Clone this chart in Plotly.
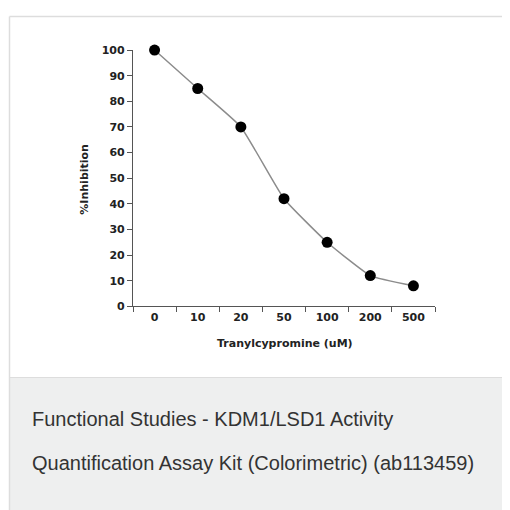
import plotly.graph_objects as go

categories = ["0", "10", "20", "50", "100", "200", "500"]
inhibition = [100, 85, 70, 42, 25, 12, 8]
y_ticks = [0, 10, 20, 30, 40, 50, 60, 70, 80, 90, 100]

W = H = 510
OFF = 8  # page body margin offset
def px(x):
    return (x - OFF) / W
def py(y):
    return 1 - (y - OFF) / H

fig = go.Figure()
fig.add_trace(go.Scatter(
    x=categories, y=inhibition, mode="lines+markers",
    line=dict(color="#8c8c8c", width=1.5, shape="spline", smoothing=0.4),
    marker=dict(color="#000000", size=11),
    cliponaxis=False,
    hoverinfo="skip", showlegend=False,
))

tick_font = dict(family="DejaVu Sans", size=11, color="#222222", weight="bold")

fig.update_layout(
    width=W, height=H,
    margin=dict(l=0, r=0, t=0, b=0),
    paper_bgcolor="white", plot_bgcolor="white",
    xaxis=dict(
        domain=[px(133), px(435)], type="category", range=[-0.5, 6.5],
        showline=True, linecolor="#555555", linewidth=1.2,
        ticks="outside", tickson="boundaries", ticklen=5, tickcolor="#555555",
        tickfont=tick_font, showgrid=False, zeroline=False, fixedrange=True,
    ),
    yaxis=dict(
        domain=[py(308), py(45)], range=[0, 100],
        tickvals=y_ticks,
        showline=True, linecolor="#555555", linewidth=1.2,
        ticks="outside", ticklen=5, tickcolor="#555555",
        tickfont=tick_font, showgrid=False, zeroline=False, fixedrange=True,
    ),
    shapes=[
        dict(type="rect", xref="paper", yref="paper", x0=px(10), x1=1.05, y0=-0.05, y1=py(381),
             fillcolor="#eeefef", line=dict(width=0), layer="below"),
        dict(type="line", xref="paper", yref="paper", x0=px(10), x1=1.05, y0=py(381), y1=py(381),
             line=dict(color="#dddddd", width=1)),
        dict(type="line", xref="paper", yref="paper", x0=px(9.5), x1=1.05, y0=py(10.5), y1=py(10.5),
             line=dict(color="#dddddd", width=1.5)),
        dict(type="line", xref="paper", yref="paper", x0=px(9.5), x1=px(9.5), y0=-0.05, y1=py(10.5),
             line=dict(color="#dddddd", width=1.5)),
    ],
    annotations=[
        dict(text="%Inhibition", xref="paper", yref="paper", x=px(85), y=py(178),
             textangle=-90, showarrow=False, xanchor="center", yanchor="middle",
             font=tick_font),
        dict(text="Tranylcypromine (uM)", xref="paper", yref="paper", x=px(285), y=py(346),
             showarrow=False, xanchor="center", yanchor="middle", font=tick_font),
        dict(text="Functional Studies - KDM1/LSD1 Activity", xref="paper", yref="paper",
             x=px(30), y=py(424), showarrow=False, xanchor="left", yanchor="middle",
             font=dict(family="Liberation Sans, Arial", size=20, color="#333333")),
        dict(text="Quantification Assay Kit (Colorimetric) (ab113459)", xref="paper", yref="paper",
             x=px(30), y=py(469), showarrow=False, xanchor="left", yanchor="middle",
             font=dict(family="Liberation Sans, Arial", size=20, color="#333333")),
    ],
)

fig.write_html("out.html")
